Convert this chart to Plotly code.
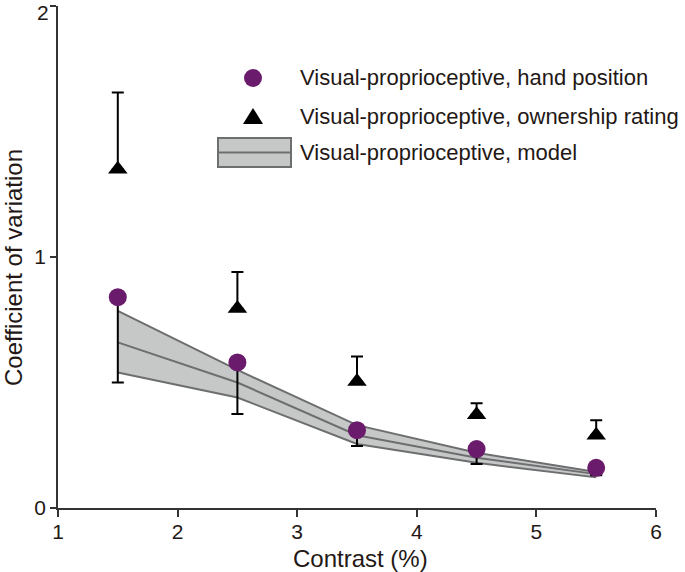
import plotly.graph_objects as go

contrast = [1.5, 2.5, 3.5, 4.5, 5.5]

hand_cv = [0.84, 0.58, 0.31, 0.235, 0.16]
hand_err_minus = [0.34, 0.205, 0.063, 0.06, 0.03]

own_cv = [1.35, 0.795, 0.504, 0.372, 0.29]
own_err_plus = [0.305, 0.145, 0.10, 0.045, 0.06]

model_mid = [0.66, 0.50, 0.29, 0.20, 0.135]
model_upper = [0.785, 0.55, 0.33, 0.22, 0.143]
model_lower = [0.54, 0.44, 0.255, 0.18, 0.122]

x_ticks = [1, 2, 3, 4, 5, 6]
y_ticks = [0, 1, 2]
y_tick_labels = ["0", "1", "2"]

x_title = "Contrast (%)"
y_title = "Coefficient of variation"

TEXT = "#231815"
PURPLE = "#6b1b6b"
BAND_FILL = "#c6c8c8"
BAND_LINE = "#6d6e70"
AXIS = "#333333"
FONT = "Liberation Sans, Arial, sans-serif"

fig = go.Figure()

fig.add_trace(go.Scatter(x=contrast, y=model_lower, mode="lines",
                         line=dict(color=BAND_LINE, width=2), showlegend=False))
fig.add_trace(go.Scatter(x=contrast, y=model_upper, mode="lines", fill="tonexty",
                         fillcolor=BAND_FILL,
                         line=dict(color=BAND_LINE, width=2), showlegend=False))
fig.add_trace(go.Scatter(x=contrast, y=model_mid, mode="lines",
                         line=dict(color=BAND_LINE, width=2), showlegend=False))

fig.add_trace(go.Scatter(
    x=contrast, y=hand_cv, mode="markers",
    marker=dict(symbol="circle", size=18, color=PURPLE),
    error_y=dict(type="data", symmetric=False, array=[0] * len(hand_cv),
                 arrayminus=hand_err_minus, color="black", thickness=2, width=6),
    showlegend=False))

fig.add_trace(go.Scatter(
    x=contrast, y=own_cv, mode="markers",
    marker=dict(symbol="triangle-up", size=17, color="black"),
    error_y=dict(type="data", symmetric=False, array=own_err_plus,
                 arrayminus=[0] * len(own_cv), color="black", thickness=2, width=6),
    showlegend=False))

# Manual legend (paper coordinates)
L, R, T, B = 58, 656, 6, 508

def px_x(px):
    return (px - L) / (R - L)

def px_y(py):
    return (B - py) / (B - T)

shapes = []
shapes.append(dict(type="circle", xref="paper", yref="paper",
                   xsizemode="pixel", ysizemode="pixel",
                   xanchor=px_x(253), yanchor=px_y(78),
                   x0=-9, x1=9, y0=-9, y1=9,
                   fillcolor=PURPLE, line=dict(width=0)))
shapes.append(dict(type="path", xref="paper", yref="paper",
                   xsizemode="pixel", ysizemode="pixel",
                   xanchor=px_x(253), yanchor=px_y(117),
                   path="M-10,-7 L10,-7 L0,9 Z",
                   fillcolor="black", line=dict(width=0)))
shapes.append(dict(type="rect", xref="paper", yref="paper",
                   x0=px_x(218), x1=px_x(291), y0=px_y(167), y1=px_y(138),
                   fillcolor=BAND_FILL, line=dict(color=BAND_LINE, width=2)))
shapes.append(dict(type="line", xref="paper", yref="paper",
                   x0=px_x(218), x1=px_x(291), y0=px_y(152.5), y1=px_y(152.5),
                   line=dict(color=BAND_LINE, width=2)))

labels = ["Visual-proprioceptive, hand position",
          "Visual-proprioceptive, ownership rating",
          "Visual-proprioceptive, model"]
label_y = [78, 116, 153]
annotations = []
for lab, ly in zip(labels, label_y):
    annotations.append(dict(text=lab, xref="paper", yref="paper",
                            x=px_x(298), y=px_y(ly), xanchor="left", yanchor="middle",
                            showarrow=False, font=dict(size=22, color=TEXT, family=FONT)))

annotations.append(dict(text=x_title, xref="paper", yref="paper",
                        x=px_x(360), y=px_y(558), xanchor="center", yanchor="middle",
                        showarrow=False, font=dict(size=24, color=TEXT, family=FONT)))
annotations.append(dict(text=y_title, xref="paper", yref="paper", textangle=-90,
                        x=px_x(13), y=px_y(268), xanchor="center", yanchor="middle",
                        showarrow=False, font=dict(size=24, color=TEXT, family=FONT)))
# top y tick label drawn slightly lower so it is not clipped by the page edge
annotations.append(dict(text=y_tick_labels[-1], xref="paper", yref="y",
                        x=px_x(50), y=y_ticks[-1], yshift=6, xanchor="right", yanchor="top",
                        showarrow=False, borderpad=0,
                        font=dict(size=21, color=TEXT, family=FONT)))

fig.update_layout(
    width=685, height=572,
    margin=dict(l=L, r=685 - R, t=T, b=572 - B),
    paper_bgcolor="white", plot_bgcolor="white",
    font=dict(family=FONT, color=TEXT, size=21),
    shapes=shapes, annotations=annotations,
    xaxis=dict(range=[1, 6], tickvals=x_ticks, ticktext=[str(v) for v in x_ticks],
               showgrid=False, zeroline=False, showline=True, linecolor=AXIS,
               linewidth=1.5, ticks="outside", ticklen=7, tickwidth=1.5, tickcolor=AXIS,
               ticklabelstandoff=-3, ticklabeloverflow="allow",
               tickfont=dict(size=21, color=TEXT, family=FONT), automargin=False),
    yaxis=dict(range=[0, 2], tickvals=y_ticks, ticktext=y_tick_labels[:-1] + [""],
               showgrid=False, zeroline=False, showline=True, linecolor=AXIS,
               linewidth=1.5, ticks="outside", ticklen=6, tickwidth=1.5, tickcolor=AXIS,
               ticklabeloverflow="allow",
               tickfont=dict(size=21, color=TEXT, family=FONT), automargin=False),
)

fig.write_html("out.html", config={"displayModeBar": False},
               post_script="document.body.style.margin='0';document.body.style.overflow='hidden';")
